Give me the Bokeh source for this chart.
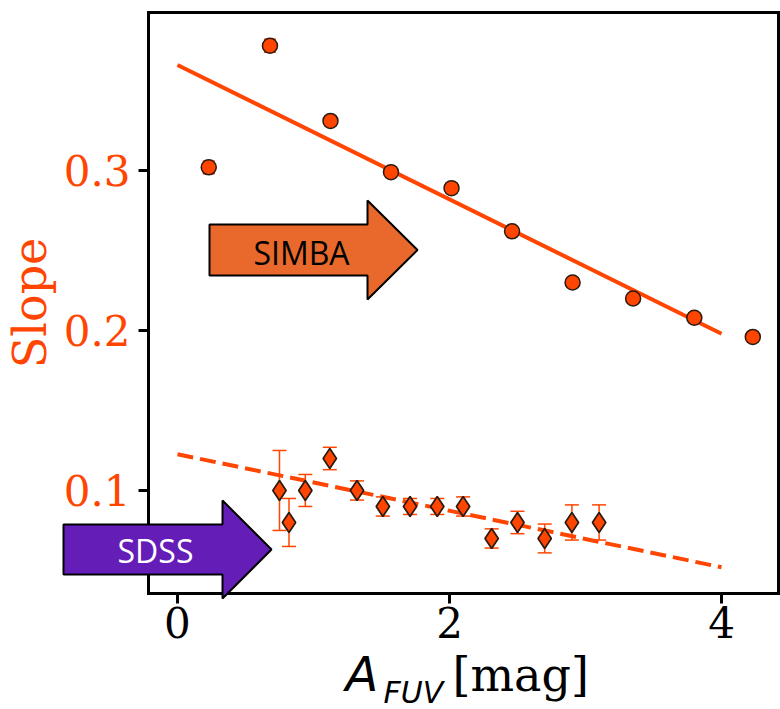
from bokeh.plotting import figure
from bokeh.models import Range1d, FixedTicker, PolyAnnotation, Label, LinearAxis
from bokeh.embed import file_html
from bokeh.resources import INLINE

# ---------------- data ----------------
simba_x = [0.23, 0.68, 1.125, 1.57, 2.015, 2.46, 2.905, 3.35, 3.80, 4.23]
simba_y = [0.302, 0.378, 0.331, 0.299, 0.289, 0.262, 0.230, 0.220, 0.208, 0.196]
simba_err = [0.004, 0.004, 0.003, 0.003, 0.003, 0.003, 0.003, 0.003, 0.003, 0.003]
simba_fit_x = [0.0, 4.0]
simba_fit_y = [0.366, 0.198]

sdss_x = [0.75, 0.82, 0.94, 1.12, 1.32, 1.51, 1.71, 1.91, 2.10, 2.31, 2.50, 2.70, 2.90, 3.10]
sdss_y = [0.100, 0.080, 0.100, 0.120, 0.100, 0.090, 0.090, 0.090, 0.090, 0.070, 0.080, 0.070, 0.080, 0.080]
sdss_err = [0.025, 0.015, 0.010, 0.007, 0.006, 0.006, 0.005, 0.005, 0.006, 0.006, 0.007, 0.009, 0.011, 0.011]
sdss_fit_x = [0.0, 4.0]
sdss_fit_y = [0.1227, 0.052]

x_ticks = [0, 2, 4]
y_ticks = [0.1, 0.2, 0.3]

# ---------------- layout ----------------
W, H = 780, 709
L, R, T, B = 148, 778, 12, 593          # axes box in pixels
XMIN, XMAX = -0.213, 4.419              # data limits of the axes box
YMIN, YMAX = 0.0356, 0.3988
OR = "#FF4500"
SERIF = "DejaVu Serif"

xpp = (XMAX - XMIN) / (R - L)
ypp = (YMAX - YMIN) / (B - T)


def dx(px):
    return XMIN + (px - L) * xpp


def dy(py):
    return YMAX - (py - T) * ypp


# the frame spans the whole canvas; axes are pinned at the box edges
p = figure(width=W, height=H, output_backend="svg", toolbar_location=None,
           x_range=Range1d(dx(0), dx(W)), y_range=Range1d(dy(H), dy(0)),
           x_axis_location=None, y_axis_location=None,
           min_border=0, min_border_left=0, min_border_right=0,
           min_border_top=0, min_border_bottom=0)
p.grid.visible = False
p.outline_line_color = None
p.background_fill_color = "white"
p.border_fill_color = "white"


def style(ax):
    ax.axis_line_width = 3
    ax.axis_line_color = "black"
    ax.axis_line_cap = "square"
    ax.major_tick_out = 10
    ax.major_tick_in = 0
    ax.major_tick_line_width = 3
    ax.minor_tick_out = 0
    ax.minor_tick_in = 0
    ax.major_label_text_font = SERIF
    ax.major_label_text_font_size = "42px"


xax = LinearAxis(fixed_location=YMIN, bounds=(XMIN, XMAX), ticker=FixedTicker(ticks=x_ticks))
style(xax)
xax.major_label_text_color = "black"
xax.major_label_standoff = 3
p.add_layout(xax, "below")

yax = LinearAxis(fixed_location=XMIN, bounds=(YMIN, YMAX), ticker=FixedTicker(ticks=y_ticks))
style(yax)
yax.major_label_text_color = OR
yax.major_label_standoff = 8
yax.axis_label = "Slope"
yax.axis_label_text_font = SERIF
yax.axis_label_text_font_size = "46px"
yax.axis_label_text_font_style = "normal"
yax.axis_label_text_color = OR
yax.axis_label_standoff = 4
p.add_layout(yax, "left")

top = LinearAxis(fixed_location=YMAX, bounds=(XMIN, XMAX), ticker=FixedTicker(ticks=[]))
style(top)
p.add_layout(top, "above")
right = LinearAxis(fixed_location=XMAX, bounds=(YMIN, YMAX), ticker=FixedTicker(ticks=[]))
style(right)
p.add_layout(right, "right")

# fits
p.line(simba_fit_x, simba_fit_y, line_color=OR, line_width=4)
p.line(sdss_fit_x, sdss_fit_y, line_color=OR, line_width=4, line_dash="16 7")

# error bars
for xs, ys, es, cap in ((simba_x, simba_y, simba_err, 12), (sdss_x, sdss_y, sdss_err, 14)):
    lo = [y - e for y, e in zip(ys, es)]
    hi = [y + e for y, e in zip(ys, es)]
    p.segment(x0=xs, y0=lo, x1=xs, y1=hi, line_color=OR, line_width=1.5)
    p.scatter(xs, lo, marker="dash", size=cap, line_color=OR, line_width=1.5)
    p.scatter(xs, hi, marker="dash", size=cap, line_color=OR, line_width=1.5)

# markers
p.scatter(simba_x, simba_y, marker="circle", size=15, fill_color=OR,
          line_color="#2a1a10", line_width=1.5)
p.scatter(sdss_x, sdss_y, marker="diamond", size=20, fill_color=OR,
          line_color="#2a1a10", line_width=1.7)

# arrows (pixel geometry of the annotations)
simba_arrow = [(209, 224), (367, 224), (367, 200), (417, 249.5), (367, 299), (367, 275), (209, 275)]
sdss_arrow = [(63, 524), (222, 524), (222, 500), (271, 549), (222, 598), (222, 574), (63, 574)]
for pts, col in ((simba_arrow, "#E8692B"), (sdss_arrow, "#651DB8")):
    p.add_layout(PolyAnnotation(xs=[dx(a) for a, b in pts], ys=[dy(b) for a, b in pts],
                                fill_color=col, fill_alpha=1.0,
                                line_color="black", line_alpha=1.0, line_width=2,
                                line_dash="solid"))

p.add_layout(Label(x=dx(301), y=dy(252), text="SIMBA", text_align="center",
                   text_baseline="alphabetic", text_font="Open Sans",
                   text_font_size="32px", text_color="black"))
p.add_layout(Label(x=dx(155), y=dy(550), text="SDSS", text_align="center",
                   text_baseline="alphabetic", text_font="Open Sans",
                   text_font_size="32px", text_color="white"))

# x-axis label: A_FUV [mag]
p.add_layout(Label(x=dx(345), y=dy(673), text="A", text_align="left",
                   text_baseline="alphabetic", text_font="DejaVu Sans",
                   text_font_style="italic", text_font_size="48px", text_color="black"))
p.add_layout(Label(x=dx(383), y=dy(692), text="FUV", text_align="left",
                   text_baseline="alphabetic", text_font="DejaVu Sans",
                   text_font_style="italic", text_font_size="30px", text_color="black"))
p.add_layout(Label(x=dx(452), y=dy(674), text="[mag]", text_align="left",
                   text_baseline="alphabetic", text_font=SERIF,
                   text_font_size="46px", text_color="black"))

open("out.html", "w").write(file_html(p, INLINE))
